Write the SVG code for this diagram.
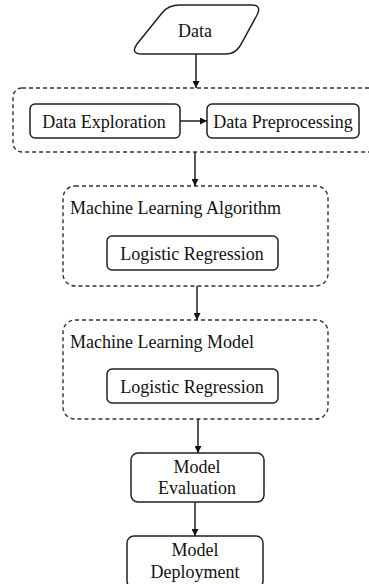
<svg xmlns="http://www.w3.org/2000/svg" width="369" height="584" viewBox="0 0 369 584">
<defs>
<marker id="arr" viewBox="0 0 10 10" refX="10" refY="5" markerWidth="7" markerHeight="7" markerUnits="userSpaceOnUse" orient="auto"><path d="M0,0 L10,5 L0,10 Z" fill="#111"/></marker>
<style>
text{font-family:"Liberation Serif","Times New Roman",serif;font-size:18px;fill:#111}
.box{fill:#fff;stroke:#222;stroke-width:1.5}
.grp{fill:none;stroke:#333;stroke-width:1.4;stroke-dasharray:4 3}
.edge{stroke:#111;stroke-width:1.4;fill:none;marker-end:url(#arr)}
.c{text-anchor:middle}
</style>
</defs>
<rect width="369" height="584" fill="#fff"/>
<g id="group1"><rect class="grp" x="13" y="88" width="380" height="64" rx="9"/></g>
<g id="group2"><rect class="grp" x="63" y="186" width="265" height="100" rx="12"/><text x="70" y="214">Machine Learning Algorithm</text></g>
<g id="group3"><rect class="grp" x="63" y="320" width="265" height="99" rx="12"/><text x="70" y="348">Machine Learning Model</text></g>
<g id="connectors">
<line class="edge" x1="196" y1="54" x2="196" y2="88"/>
<line class="edge" x1="180" y1="121" x2="207" y2="121"/>
<line class="edge" x1="195" y1="152" x2="195" y2="186"/>
<line class="edge" x1="197" y1="286" x2="197" y2="320"/>
<line class="edge" x1="198" y1="419" x2="198" y2="453"/>
<line class="edge" x1="195" y1="502" x2="195" y2="536"/>
</g>
<g id="data"><path class="box" d="M180,5 L252,5 Q262,5 257,15 L240,46 Q235,54 226,54 L142,54 Q130,54 137,44 L162,13 Q168,5 180,5 Z"/><text class="c" x="195" y="37">Data</text></g>
<g id="exploration"><rect class="box" x="30" y="104" width="150" height="34" rx="5"/><text class="c" x="104" y="128">Data Exploration</text></g>
<g id="preprocessing"><rect class="box" x="207" y="104" width="152" height="34" rx="5"/><text class="c" x="283" y="128">Data Preprocessing</text></g>
<g id="lr1"><rect class="box" x="107" y="236" width="171" height="34" rx="5"/><text class="c" x="192" y="260">Logistic Regression</text></g>
<g id="lr2"><rect class="box" x="107" y="369" width="171" height="34" rx="5"/><text class="c" x="192" y="393">Logistic Regression</text></g>
<g id="evaluation"><rect class="box" x="131" y="453" width="133" height="49" rx="7"/><text class="c" x="197" y="473">Model</text><text class="c" x="197" y="494">Evaluation</text></g>
<g id="deployment"><rect class="box" x="127" y="536" width="136" height="52" rx="7"/><text class="c" x="195" y="556">Model</text><text class="c" x="195" y="578">Deployment</text></g>
</svg>
